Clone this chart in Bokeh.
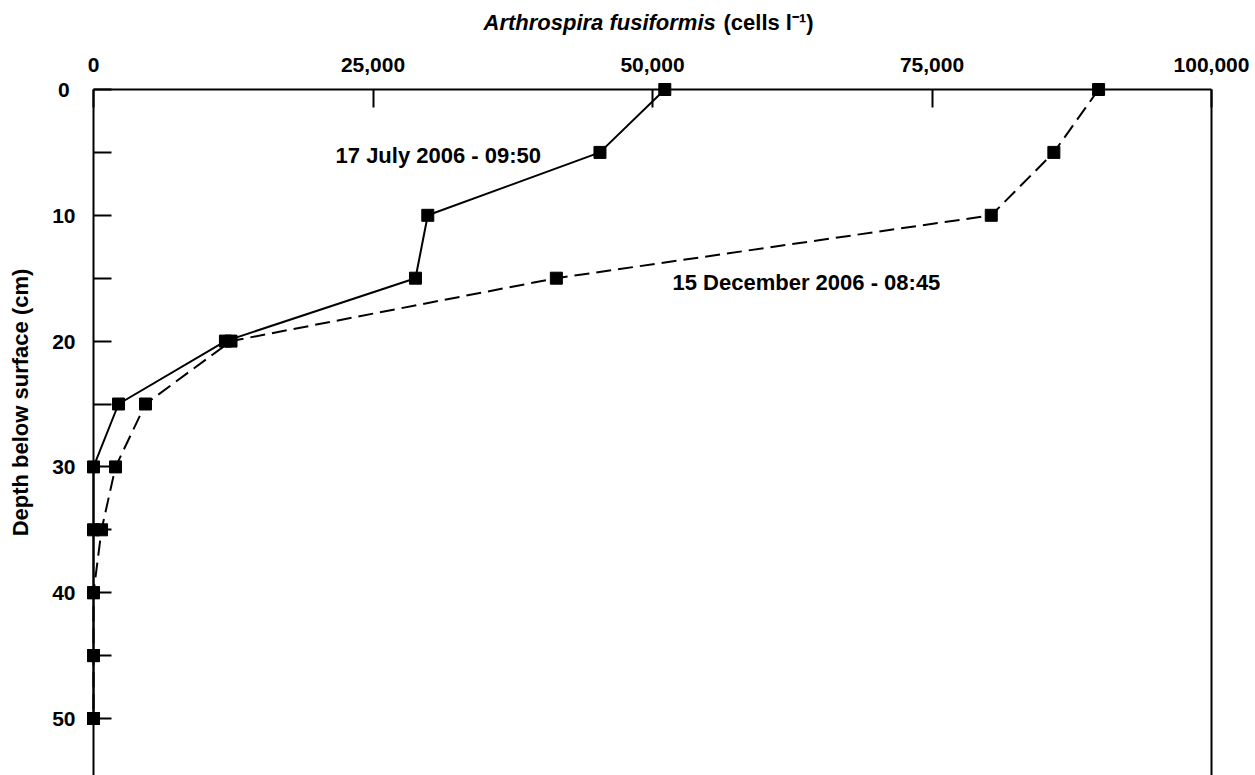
import math
from bokeh.plotting import figure
from bokeh.models import Range1d, LinearAxis, FixedTicker, Label, NumeralTickFormatter
from bokeh.embed import file_html
from bokeh.resources import INLINE
from bokeh.core.properties import value

# ---- data ----
depth_cm = [0, 5, 10, 15, 20, 25, 30, 35, 40, 45, 50]
july_cells = [51100, 45300, 29900, 28800, 11800, 2240, 0, 0, 0, 0, 0]
december_cells = [89900, 85900, 80300, 41400, 12300, 4650, 1970, 720, 0, 0, 0]
x_ticks = [0, 25000, 50000, 75000, 100000]
y_major = [0, 10, 20, 30, 40, 50]
y_minor = [5, 15, 25, 35, 45]
july_label = "17 July 2006 - 09:50"
december_label = "15 December 2006 - 08:45"
x_title_species = "Arthrospira fusiformis"
x_title_units = "(cells l\u207b\u00b9)"
y_title = "Depth below surface (cm)"

FONT = "Liberation Sans"

# ---- layout geometry (pixels) ----
W, H = 1255, 775
FRAME_L, FRAME_R, FRAME_T = 93, 1211, 89
X_MAX = 100000
px_per_x = (FRAME_R - FRAME_L) / X_MAX
px_per_cm = 12.58
x_start = -FRAME_L / px_per_x
x_end = X_MAX + (W - FRAME_R) / px_per_x
y_top = -FRAME_T / px_per_cm
y_bottom = (H - FRAME_T) / px_per_cm

p = figure(width=W, height=H, output_backend="svg", toolbar_location=None,
           x_range=Range1d(x_start, x_end), y_range=Range1d(y_bottom, y_top),
           x_axis_location="above", min_border=0)
p.outline_line_color = None
p.grid.visible = False
p.background_fill_color = "white"
p.border_fill_color = "white"

# top x axis
xa = p.xaxis[0]
xa.fixed_location = 0
xa.bounds = (0, X_MAX)
xa.ticker = FixedTicker(ticks=x_ticks)
xa.formatter = NumeralTickFormatter(format="0,0")
xa.major_tick_in = 18
xa.major_tick_out = 0
xa.minor_tick_line_color = None
xa.axis_line_width = 2
xa.major_tick_line_width = 2
xa.major_label_standoff = 18
xa.major_label_text_font = FONT
xa.major_label_text_font_style = "bold"
xa.major_label_text_font_size = "21px"
xa.major_label_text_color = "black"

# left y axis
ya = p.yaxis[0]
ya.fixed_location = 0
ya.bounds = (0, y_bottom)
ya.ticker = FixedTicker(ticks=y_major, minor_ticks=y_minor)
ya.major_tick_in = 18
ya.major_tick_out = 0
ya.minor_tick_in = 18
ya.minor_tick_out = 0
ya.minor_tick_line_color = "black"
ya.minor_tick_line_width = 2
ya.axis_line_width = 2
ya.major_tick_line_width = 2
ya.major_label_standoff = 18
ya.major_label_text_font = FONT
ya.major_label_text_font_style = "bold"
ya.major_label_text_font_size = "21px"
ya.major_label_text_color = "black"
ya.major_label_overrides = {0: "0\u00a0"}

# right frame line
ra = LinearAxis(ticker=FixedTicker(ticks=[]), axis_line_width=2, fixed_location=X_MAX,
                bounds=(0, y_bottom),
                major_tick_line_color=None, minor_tick_line_color=None,
                major_label_text_font_size="0px")
p.add_layout(ra, "right")

# data
p.line(july_cells, depth_cm, line_color="black", line_width=2)
p.scatter(july_cells, depth_cm, marker="square", size=12, color="black")
p.line(december_cells, depth_cm, line_color="black", line_width=2, line_dash="15 7")
p.scatter(december_cells, depth_cm, marker="square", size=12, color="black")

p.text(x=[21650], y=[5.25], text=[july_label], text_font=value(FONT),
       text_font_style="bold", text_font_size="22px", text_color="black",
       text_align="left", text_baseline="middle")
p.text(x=[51790], y=[15.38], text=[december_label], text_font=value(FONT),
       text_font_style="bold", text_font_size="22px", text_color="black",
       text_align="left", text_baseline="middle")

# axis titles
p.add_layout(Label(x=483, y=21.5, x_units="canvas", y_units="canvas",
                   text=x_title_species, text_font=FONT, text_font_style="bold italic",
                   text_font_size="22px", text_color="black",
                   text_align="left", text_baseline="middle"))
p.add_layout(Label(x=723, y=21.5, x_units="canvas", y_units="canvas",
                   text=x_title_units, text_font=FONT, text_font_style="bold",
                   text_font_size="22px", text_color="black",
                   text_align="left", text_baseline="middle"))
p.add_layout(Label(x=20, y=402, x_units="canvas", y_units="canvas",
                   text=y_title, text_font=FONT, text_font_style="bold",
                   text_font_size="22px", text_color="black", angle=math.pi / 2,
                   text_align="center", text_baseline="middle"))

open("out.html", "w").write(file_html(p, INLINE))
